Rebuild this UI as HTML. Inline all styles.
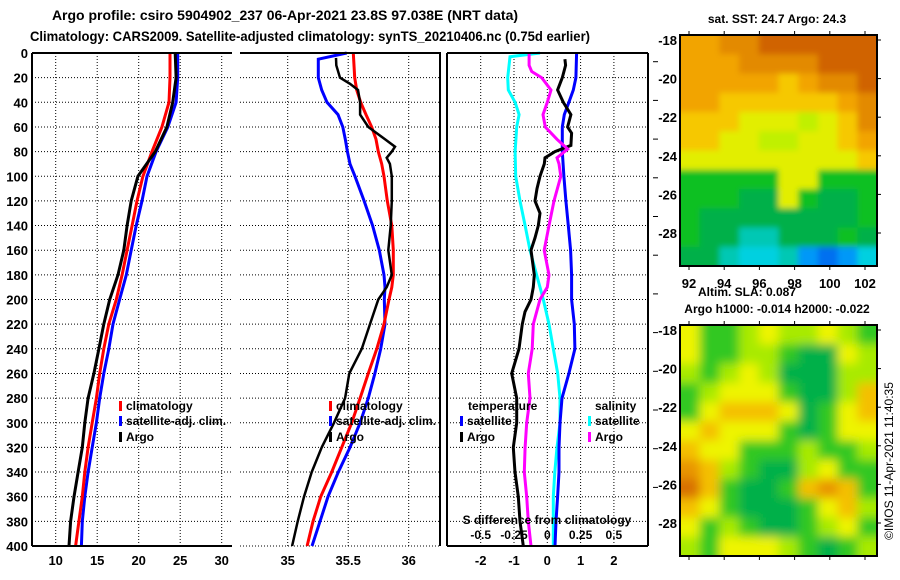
<!DOCTYPE html>
<html><head><meta charset="utf-8"><style>
html,body{margin:0;padding:0;background:#fff;width:900px;height:580px;overflow:hidden}
svg{display:block;font-family:"Liberation Sans",sans-serif;font-weight:bold}
</style></head><body>
<svg id="chart" width="900" height="580" viewBox="0 0 900 580" xmlns="http://www.w3.org/2000/svg">
<defs>
<filter id="blurS" x="-10%" y="-10%" width="120%" height="120%"><feGaussianBlur stdDeviation="3"/></filter>
<filter id="blurL" x="-10%" y="-10%" width="120%" height="120%"><feGaussianBlur stdDeviation="5"/></filter>
<clipPath id="clipM1"><rect x="680" y="35" width="197" height="231"/></clipPath>
<clipPath id="clipM2"><rect x="680" y="325" width="197" height="231"/></clipPath>
</defs>
<text x="285" y="20" font-size="14" text-anchor="middle">Argo profile: csiro 5904902_237 06-Apr-2021 23.8S 97.038E (NRT data)</text>
<text x="30" y="41" font-size="14" textLength="560" lengthAdjust="spacingAndGlyphs">Climatology: CARS2009. Satellite-adjusted climatology: synTS_20210406.nc (0.75d earlier)</text>
<g id="grid"></g>
<g id="series"></g>
<g id="frames"></g>
<g id="labels"></g>
<g id="maps"></g>
<text x="777" y="23" font-size="12" text-anchor="middle">sat. SST: 24.7 Argo: 24.3</text>
<text x="747" y="296" font-size="12" text-anchor="middle">Altim. SLA: 0.087</text>
<text x="777" y="313" font-size="12" text-anchor="middle">Argo h1000: -0.014 h2000: -0.022</text>
<text x="0" y="0" font-size="12" font-weight="normal" text-anchor="middle" transform="translate(893,461) rotate(-90)">©IMOS 11-Apr-2021 11:40:35</text>
</svg>
<script>
// ---- Panel 1: temperature ----
const tDepthRed = [0,20,40,60,80,100,120,140,160,180,200,220,240,260,280,300,320,340,360,380,400];
const tempClim = [23.77,23.77,23.65,22.8,21.6,20.5,19.8,19.2,18.6,18.0,17.3,16.4,15.8,15.3,14.9,14.4,13.9,13.5,13.2,12.8,12.4];
const tempSat = [24.7,24.7,24.5,23.5,22.1,21.0,20.4,19.7,19.1,18.5,17.7,16.9,16.4,15.8,15.3,14.9,14.4,13.9,13.5,13.2,13.1];
const tempArgo = [24.4,24.5,24.1,23.4,22.0,19.9,19.1,18.6,18.2,17.5,16.5,15.8,15.2,14.6,13.9,13.5,13.2,12.7,12.2,11.8,11.6];
const tTicks = [10,15,20,25,30];
// ---- Panel 2: salinity ----
const sDepthClim = [0,20,30,40,50,60,70,80,90,100,120,140,160,180,190,200,220,240,260,280,300,320,340,360,380,400];
const salClim = [35.542,35.554,35.570,35.603,35.647,35.694,35.730,35.749,35.777,35.796,35.823,35.860,35.873,35.873,35.860,35.837,35.796,35.736,35.666,35.598,35.529,35.446,35.364,35.273,35.209,35.160];
const sDepthSat = [0,5,20,30,40,50,60,70,80,90,100,120,140,160,180,190,200,220,240,260,280,300,320,340,360,380,400];
const salSat = [35.488,35.253,35.253,35.281,35.325,35.416,35.455,35.476,35.493,35.515,35.556,35.631,35.702,35.757,35.796,35.804,35.798,35.804,35.769,35.721,35.666,35.598,35.515,35.418,35.333,35.267,35.201];
const sDepthArgo = [4,10,20,25,30,40,50,60,70,76,80,85,90,100,120,140,160,180,190,200,220,240,260,280,300,320,340,360,380,400];
const salArgo = [35.399,35.402,35.432,35.515,35.581,35.598,35.598,35.666,35.804,35.887,35.860,35.818,35.845,35.860,35.860,35.851,35.831,35.860,35.818,35.749,35.680,35.612,35.509,35.474,35.383,35.281,35.198,35.135,35.083,35.036];
const sTicks = [35,35.5,36];
const sTickLabels = ["35","35.5","36"];
// ---- Panel 3: differences ----
const dDepthTSat = [0,20,30,40,50,60,80,100,120,140,160,180,200,220,240,260,280,300,320,340,360,380,400];
const dTempSat = [0.88,0.86,0.78,0.65,0.51,0.45,0.45,0.50,0.56,0.63,0.70,0.73,0.73,0.81,0.83,0.65,0.44,0.38,0.35,0.35,0.31,0.26,0.23];
const dDepthTArgo = [5,10,20,30,40,50,60,65,75,80,85,90,100,110,120,130,140,150,160,180,190,200,210,220,240,260,280,300,320,340,360,380,400];
const dTempArgo = [0.53,0.55,0.45,0.31,0.48,0.71,0.61,0.73,0.71,0.23,-0.07,-0.09,-0.22,-0.31,-0.37,-0.22,-0.27,-0.37,-0.49,-0.39,-0.42,-0.49,-0.67,-0.75,-0.85,-1.07,-0.92,-0.92,-1.02,-0.97,-0.87,-0.82,-0.72];
const dDepthSArgo = [0,10,15,20,30,40,50,60,70,78,85,90,100,120,140,160,180,190,200,220,240,260,280,300,320,340,360,380,400];
const dSalArgo = [-0.137,-0.137,-0.117,-0.042,0.028,0,-0.032,-0.015,0.073,0.153,0.073,0.088,0.101,0.050,0.013,-0.023,0.013,0,-0.055,-0.105,-0.113,-0.143,-0.130,-0.155,-0.167,-0.173,-0.155,-0.143,-0.122];
const dDepthSSat = [0,3,20,30,40,50,60,80,100,120,140,160,180,190,200,220,240,260,280,300,320,340,360,380,400];
const dSalSat = [-0.055,-0.280,-0.297,-0.293,-0.242,-0.212,-0.230,-0.242,-0.237,-0.205,-0.167,-0.130,-0.080,-0.055,-0.030,0.013,0.045,0.078,0.095,0.095,0.073,0.056,0.045,0.045,0.045];
const dTTicks = [-2,-1,0,1,2];
const dSTicks = [-0.5,-0.25,0,0.25,0.5];
const dSTickLabels = ["-0.5","-0.25","0","0.25","0.5"];
const depthTicks = [0,20,40,60,80,100,120,140,160,180,200,220,240,260,280,300,320,340,360,380,400];
// ---- Maps ----
const lonTicks = [92,94,96,98,100,102];
const latTicks = [-18,-20,-22,-24,-26,-28];
const sstRows = [
"ooOODDDDDD","oooOOOODDD","oooooaoOOD","ooaaaaaaoO","aaayyylyaO","aayyllyyao",
"yyyyyyyyya","GGGGGyyGGG","GGGggyGggG","GggggggggG","GggccgggGg","ggcCCcbBbC"];
const slaRows = [
"YGGLYLLYLG","YGGLLGggYL","LGLYLgggLL","GLYYYGggLo","GYoooYgGYo","YoYYYGgGYY",
"oYYGGGLGGL","OoLGggLYGG","RoGggGoOoG","oYGgggGYoL","YGLGggGLYG","LGYYYLGgGL"];
const sstColors = {D:"#d06400",O:"#e38a00",o:"#f2a400",a:"#f6c800",y:"#e2ee00",l:"#c0f000",G:"#10c020",g:"#00b048",c:"#00c8b4",C:"#00d0e0",b:"#0098f8",B:"#0070f0"};
const slaColors = {Y:"#eef400",L:"#a8ea00",G:"#30c820",g:"#00b048",o:"#f4c000",O:"#e89400",R:"#d87000"};

const NS="http://www.w3.org/2000/svg";
function mk(tag, attrs, parent){const e=document.createElementNS(NS,tag);for(const k in attrs)e.setAttribute(k,attrs[k]);(parent||document.getElementById('chart')).appendChild(e);return e;}
const grid=document.getElementById('grid'), series=document.getElementById('series'), frames=document.getElementById('frames'), labels=document.getElementById('labels'), maps=document.getElementById('maps');
const TOP=53, BOT=546;
function yD(d){return TOP + d*(BOT-TOP)/400;}
function x1(t){return 55.7+(t-10)*8.3;}
function x2(s){return 287.7+(s-35)*121;}
function x3T(t){return 547.3+t*33.3;}
function x3S(s){return 547.3+s*133.2;}
const panels=[{l:32,r:231},{l:240,r:440},{l:447,r:648}];

panels.forEach((p,i)=>{
  depthTicks.forEach(d=>{
    if(d===0||d===400) return;
    const ln=mk('line',{x1:p.l,x2:p.r,y1:yD(d),y2:yD(d),stroke:'#000','stroke-width':1,'stroke-dasharray':'1,2'},grid);
    
    
  });
});
function vgrid(x,name){const ln=mk('line',{x1:x,x2:x,y1:TOP,y2:BOT,stroke:'#000','stroke-width':1,'stroke-dasharray':'1,2'},grid);
  
  }
tTicks.forEach(t=>vgrid(x1(t),'temp-gridline'));
sTicks.forEach(s=>vgrid(x2(s),'sal-gridline'));
dTTicks.forEach(t=>vgrid(x3T(t),'diff-gridline'));
{const ln=mk('line',{x1:240,x2:440,y1:BOT,y2:BOT,stroke:'#000','stroke-width':1,'stroke-dasharray':'1,2'},grid);

}

function poly(xs,ds,fx,color,w,name){
  const pts=xs.map((v,i)=>fx(v).toFixed(1)+','+yD(ds[i]).toFixed(1)).join(' ');
  const pl=mk('polyline',{points:pts,fill:'none',stroke:color,'stroke-width':w,'stroke-linejoin':'miter'},series);
  
  
}
poly(tempSat,tDepthRed,x1,'#0000ff',3,'temp-satellite-line');
poly(tempClim,tDepthRed,x1,'#ff0000',3,'temp-climatology-line');
poly(tempArgo,tDepthRed,x1,'#000',3,'temp-argo-line');
poly(salSat,sDepthSat,x2,'#0000ff',3,'sal-satellite-line');
poly(salClim,sDepthClim,x2,'#ff0000',3,'sal-climatology-line');
poly(salArgo,sDepthArgo,x2,'#000',2.5,'sal-argo-line');
poly(dSalSat,dDepthSSat,x3S,'#00ffff',3,'diff-sal-satellite-line');
poly(dTempSat,dDepthTSat,x3T,'#0000ff',3,'diff-temp-satellite-line');
poly(dTempArgo,dDepthTArgo,x3T,'#000',3,'diff-temp-argo-line');
poly(dSalArgo,dDepthSArgo,x3S,'#ff00ff',3,'diff-sal-argo-line');

function fl(a,b,c,d,name){const ln=mk('line',{x1:a,y1:b,x2:c,y2:d,stroke:'#000','stroke-width':2},frames);
  
  }
fl(32,TOP,232,TOP,'temp-top-axis');fl(32,TOP,32,BOT,'temp-left-axis');fl(32,BOT,232,BOT,'temp-bottom-axis');
fl(240,TOP,441,TOP,'sal-top-axis');fl(440,TOP,440,BOT,'sal-right-axis');
fl(447,TOP,648,TOP,'diff-top-axis');fl(447,TOP,447,BOT,'diff-left-axis');fl(447,BOT,648,BOT,'diff-bottom-axis');fl(648,TOP,648,BOT,'diff-right-axis');
for(let k=0;k<12;k++){const yy=61.7+k*38.7;const ln=mk('line',{x1:653,x2:658,y1:yy,y2:yy,stroke:'#000','stroke-width':1},frames);
  
  }

function txt(x,y,s,size,anchor,name,fill){const t=mk('text',{x:x,y:y,'font-size':size,'text-anchor':anchor||'start',fill:fill||'#000'},labels);t.textContent=s;
  
  return t;}
depthTicks.forEach(d=>txt(28,yD(d)+5,String(d),13,'end','depth-tick-label'));
tTicks.forEach(t=>txt(x1(t),565,String(t),13,'middle','temp-tick-label'));
sTicks.forEach((s,i)=>txt(x2(s),565,sTickLabels[i],13,'middle','sal-tick-label'));
dTTicks.forEach(t=>txt(x3T(t),565,String(t),13,'middle','diff-temp-tick-label'));
dSTicks.forEach((s,i)=>txt(x3S(s),539,dSTickLabels[i],12,'middle','diff-sal-tick-label'));
txt(547,524,'S difference from climatology',12,'middle','diff-sal-axis-title');

function marker(x,y,color){const r=mk('rect',{x:x,y:y-9,width:3,height:10,fill:color},labels);
  
  }
[[119,'climatology','#ff0000',410],[119,'satellite-adj. clim.','#0000ff',425],[119,'Argo','#000',441]].forEach(e=>{marker(e[0],e[3],e[2]);txt(e[0]+7,e[3],e[1],12,'start','temp-legend-entry');});
[[329,'climatology','#ff0000',410],[329,'satellite-adj. clim.','#0000ff',425],[329,'Argo','#000',441]].forEach(e=>{marker(e[0],e[3],e[2]);txt(e[0]+7,e[3],e[1],12,'start','sal-legend-entry');});
txt(468,410,'temperature',12,'start','diff-legend-temp-title');
marker(460,425,'#0000ff');txt(467,425,'satellite',12,'start','diff-legend-entry');
marker(460,441,'#000');txt(467,441,'Argo',12,'start','diff-legend-entry');
txt(595,410,'salinity',12,'start','diff-legend-sal-title');
marker(588,425,'#00ffff');txt(595,425,'satellite',12,'start','diff-legend-entry');
marker(588,441,'#ff00ff');txt(595,441,'Argo',12,'start','diff-legend-entry');

function drawMap(rows,colors,top,clip,filt,name){
  const outer=mk('g',{'clip-path':'url(#'+clip+')'},maps);
  
  
  const g=mk('g',{filter:'url(#'+filt+')'},outer);
  const cw=197/10,ch=231/12;
  rows.forEach((r,ri)=>{for(let ci=0;ci<10;ci++){
    const x=680+ci*cw-(ci===0?12:0), y=top+ri*ch-(ri===0?12:0);
    const w=cw+0.6+(ci===0||ci===9?12:0), h=ch+0.6+(ri===0||ri===11?12:0);
    const rc=mk('rect',{x:x,y:y,width:w,height:h,fill:colors[r[ci]]},g);
    
    
  }});
  const fr=mk('rect',{x:680,y:top,width:197,height:231,fill:'none',stroke:'#000','stroke-width':2},maps);
  
  
  const lonX=lon=>689+(lon-92)*17.6, latY=lat=>top+5+(-18-lat)*19.3;
  lonTicks.forEach(lon=>{
    [[top-4,top],[top+231,top+235]].forEach(p=>{const ln=mk('line',{x1:lonX(lon),x2:lonX(lon),y1:p[0],y2:p[1],stroke:'#000'},maps);
      
      });
  });
  latTicks.forEach(lat=>{
    const ln=mk('line',{x1:877,x2:881,y1:latY(lat),y2:latY(lat),stroke:'#000'},maps);
    
    
    const t=mk('text',{x:677,y:latY(lat)+5,'font-size':13,'text-anchor':'end'},maps);t.textContent=String(lat);
    
    
  });
  return lonX;
}
const lx=drawMap(sstRows,sstColors,35,'clipM1','blurS','sst-map');
drawMap(slaRows,slaColors,325,'clipM2','blurL','sla-map');
lonTicks.forEach(lon=>{const t=mk('text',{x:lx(lon),y:288,'font-size':13,'text-anchor':'middle'},maps);t.textContent=String(lon);
  
  });
</script>
</body></html>
